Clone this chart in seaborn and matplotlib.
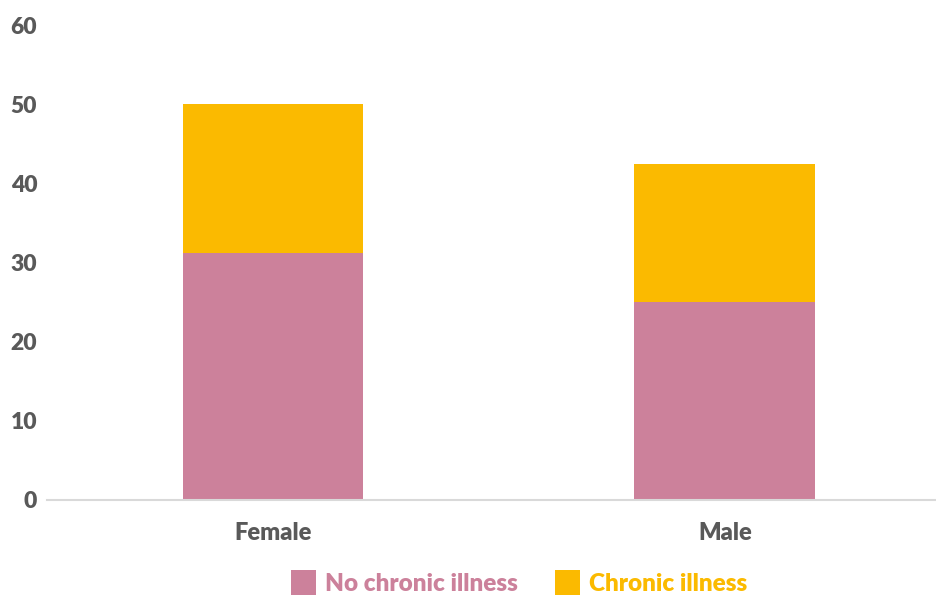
import matplotlib
matplotlib.use("Agg")
import matplotlib.pyplot as plt
from matplotlib.lines import Line2D
import seaborn as sns
import pandas as pd

# Share of respondents by sex, split by chronic illness status
sexes = ["Female", "Male"]
no_chronic = [31.2, 25.0]
chronic = [18.8, 17.5]
series_labels = ["No chronic illness", "Chronic illness"]
y_ticks = [0, 10, 20, 30, 40, 50, 60]

pink = "#CC819B"
yellow = "#FBBA00"
text_grey = "#595959"

sns.set_theme(style="white")
plt.rcParams["font.family"] = ["Lato", "DejaVu Sans"]

df = pd.DataFrame({
    "sex": sexes,
    "no_chronic": no_chronic,
    "total": [a + b for a, b in zip(no_chronic, chronic)],
})

fig = plt.figure(figsize=(9.36, 5.96), dpi=100)
ax = fig.add_axes([47 / 936, 96 / 596, 889 / 936, 475 / 596])

# Stack: full height in yellow, the lower segment drawn over it in pink
sns.barplot(data=df, x="sex", y="total", color=yellow, saturation=1,
            width=0.4, ax=ax, linewidth=0)
sns.barplot(data=df, x="sex", y="no_chronic", color=pink, saturation=1,
            width=0.4, ax=ax, linewidth=0)

ax.set_xlim(-0.5, (936 - 273.5) / 451.5)
ax.set_ylim(0, 60)
ax.set_yticks(y_ticks)
ax.set_yticklabels([str(v) for v in y_ticks])
ax.set_xlabel("")
ax.set_ylabel("")

for side in ["top", "right", "left"]:
    ax.spines[side].set_visible(False)
ax.spines["bottom"].set_color("#D9D9D9")
ax.spines["bottom"].set_linewidth(1.5)
ax.tick_params(axis="both", length=0, colors=text_grey)
ax.tick_params(axis="y", pad=7, labelsize=16.5)
ax.tick_params(axis="x", pad=16, labelsize=17)
for lab in ax.get_xticklabels() + ax.get_yticklabels():
    lab.set_fontweight("heavy")
    lab.set_color(text_grey)

handles = [
    Line2D([], [], marker="s", linestyle="none", markersize=18,
           markerfacecolor=pink, markeredgewidth=0),
    Line2D([], [], marker="s", linestyle="none", markersize=18,
           markerfacecolor=yellow, markeredgewidth=0),
]
leg = fig.legend(handles, series_labels, loc="center", ncol=2,
                 bbox_to_anchor=(519 / 936, 1 - 584 / 596), frameon=False,
                 prop={"size": 17.5, "weight": "heavy"},
                 labelcolor=[pink, yellow], handletextpad=0.4,
                 columnspacing=1.5, handlelength=1.0)

fig.savefig("out.png", dpi=100)
